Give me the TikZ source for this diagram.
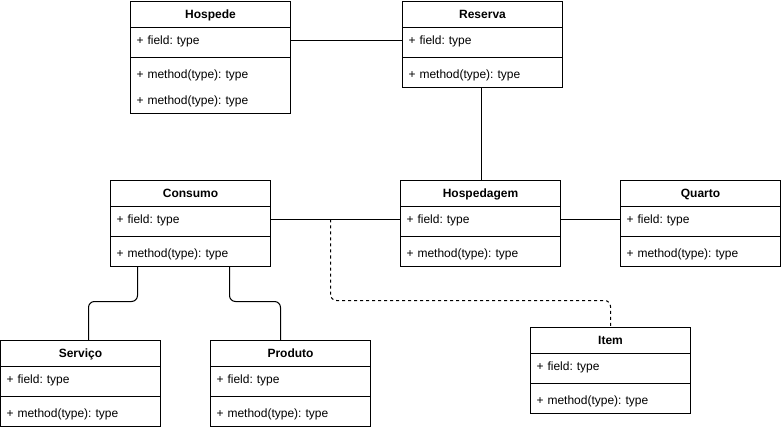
\documentclass[tikz,border=0pt]{standalone}
\usepackage{fontspec}
\setmainfont{Liberation Sans}
\usetikzlibrary{positioning}
\frenchspacing

\begin{document}
\begin{tikzpicture}[x=1pt,y=-1pt,line width=1pt,
    head/.style={draw,minimum width=160pt,minimum height=26pt,outer sep=0pt,
        inner sep=0pt,text height=10pt,text depth=2pt,
        font=\fontsize{12}{14}\selectfont\bfseries},
    row/.style={minimum height=26pt,text width=148pt,inner xsep=6pt,inner ysep=0pt,
        outer sep=0pt,align=left,text height=10pt,text depth=2pt,
        font=\fontsize{12}{14}\selectfont},
    link/.style={rounded corners=6pt},
    dep/.style={dash pattern=on 3pt off 3pt,rounded corners=6pt}]
    \useasboundingbox (0,0) rectangle (781,430);

    % Hospede (two methods)
    \node[head] (hsp) at (210.5,14.5) {Hospede};
    \node[row,below=0pt of hsp] (hsp-f) {+ field: type};
    \node[row,below=8pt of hsp-f] (hsp-m1) {+ method(type): type};
    \node[row,below=0pt of hsp-m1] (hsp-m2) {+ method(type): type};
    \draw (hsp.north west) rectangle (hsp-m2.south east);
    \draw ([yshift=-4pt]hsp-f.south west) -- ([yshift=-4pt]hsp-f.south east);

    % The other classes
    \foreach \n/\x/\y/\t in {res/402.5/1.5/Reserva, cons/110.5/180.5/Consumo,
        hosp/400.5/180.5/Hospedagem, quar/620.5/180.5/Quarto,
        serv/0.5/340.5/Serviço, prod/210.5/340.5/Produto, item/530.5/327.5/Item} {
        \node[head] (\n) at (\x+80,\y+13) {\t};
        \node[row,below=0pt of \n] (\n-f) {+ field: type};
        \node[row,below=8pt of \n-f] (\n-m) {+ method(type): type};
        \draw (\n.north west) rectangle (\n-m.south east);
        \draw ([yshift=-4pt]\n-f.south west) -- ([yshift=-4pt]\n-f.south east);
    }

    % Associations
    \draw (hsp-f.east) -- (res-f.west);
    \draw ([xshift=-1pt]res-m.south) -- ([xshift=-1pt]res-m.south |- hosp.north);
    \draw (cons-f.east) -- (hosp-f.west);
    \draw (hosp-f.east) -- (quar-f.west);

    % Consumo splits into Servico and Produto
    \draw[link] ([xshift=-53pt]cons-m.south) -- ++(0,35) -| ([xshift=8pt]serv.north);
    \draw[link] ([xshift=39pt]cons-m.south) -- ++(0,35) -| ([xshift=-10pt]prod.north);

    % Dashed link to Item
    \path (cons-f.east) -- (hosp-f.west) coordinate[pos=0.4615] (tap);
    \draw[dep] (tap) -- ++(0,81) -| (item.north);
\end{tikzpicture}
\end{document}
